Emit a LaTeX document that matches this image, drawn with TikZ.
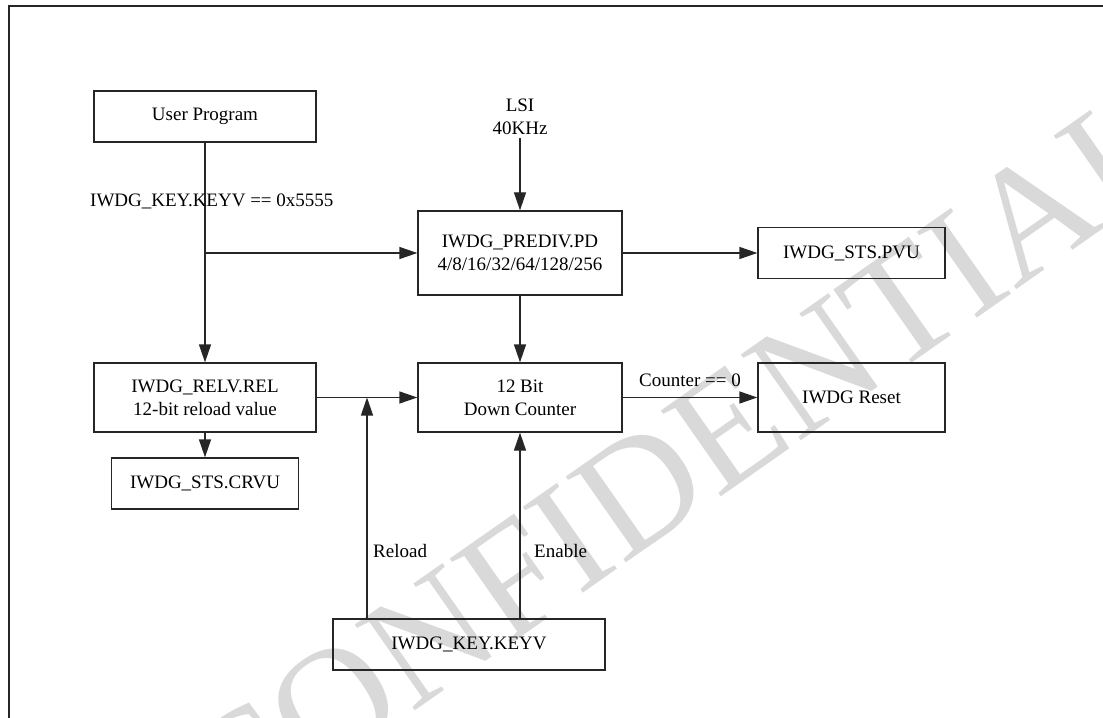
\documentclass[tikz,border=0pt]{standalone}
\usepackage{fontspec}
\setmainfont{Liberation Serif}
\usetikzlibrary{arrows.meta,calc}

\tikzset{
  blk/.style={draw=black!85, line width=1.3bp, inner sep=0pt, align=center,
              font=\fontsize{19bp}{23bp}\selectfont},
  lbl/.style={inner sep=0pt, align=center, font=\fontsize{19bp}{23bp}\selectfont},
  conn/.style={draw=black!85, line width=1.3bp},
  arr/.style={conn, -{Triangle[length=18bp,width=12bp]}},
}

\begin{document}
\begin{tikzpicture}[x=1bp, y=-1bp]
  \useasboundingbox (0,0) rectangle (1103,718);
  \clip (0,0) rectangle (1103,718);

  % watermark
  \node[text=black!15, rotate=35, inner sep=0pt,
        font=\fontsize{160bp}{160bp}\selectfont] (wm) at (680,462) {CONFIDENTIAL};

  % outer frame
  \draw[line width=2bp, black!85] (9,6) rectangle (1120,740);

  % blocks
  \node[blk, minimum width=222bp, minimum height=51bp] (user) at (205,116.5) {User Program};
  \node[blk, minimum width=204bp, minimum height=84bp] (prediv) at (520,253) {IWDG\_PREDIV.PD\\4/8/16/32/64/128/256};
  \node[blk, minimum width=187bp, minimum height=51bp] (pvu) at (851.5,253) {IWDG\_STS.PVU};
  \node[blk, minimum width=222bp, minimum height=69bp] (relv) at (205,397.5) {IWDG\_RELV.REL\\12-bit reload value};
  \node[blk, minimum width=204bp, minimum height=69bp] (cnt) at (520,397.5) {12 Bit\\Down Counter};
  \node[blk, minimum width=187bp, minimum height=69bp] (rst) at (851.5,397.5) {IWDG Reset};
  \node[blk, minimum width=187bp, minimum height=51bp] (crvu) at (205,483.5) {IWDG\_STS.CRVU};
  \node[blk, minimum width=272bp, minimum height=51bp] (keyv) at (469,644.5) {IWDG\_KEY.KEYV};

  % clock source
  \node[lbl] (lsi) at (520,116.5) {LSI\\40KHz};

  % junctions
  \coordinate (j1) at (205,253);
  \coordinate (j2) at (367,397.5);

  % connectors
  \draw[arr] (user.south) -- (relv.north);
  \draw[arr] (j1) -- (prediv.west);
  \node[lbl, anchor=west] (keylbl) at (90,201) {IWDG\_KEY.KEYV == 0x5555};
  \draw[arr] (lsi.south) ++(0,3) -- (prediv.north);
  \draw[arr] (prediv.east) -- (pvu.west);
  \draw[arr] (prediv.south) -- (cnt.north);
  \draw[arr] (relv.east) -- (cnt.west);
  \draw[arr] (relv.south) -- (crvu.north);
  \draw[arr] (keyv.north -| j2) -- (j2);
  \draw[arr] (keyv.north -| cnt.south) -- (cnt.south);
  \draw[arr] (cnt.east) -- node[lbl, above=10bp] (zlbl) {Counter == 0} (rst.west);
  \node[lbl, anchor=west] (reload) at (373,551) {Reload};
  \node[lbl, anchor=west] (enable) at (534,551) {Enable};
\end{tikzpicture}
\end{document}
